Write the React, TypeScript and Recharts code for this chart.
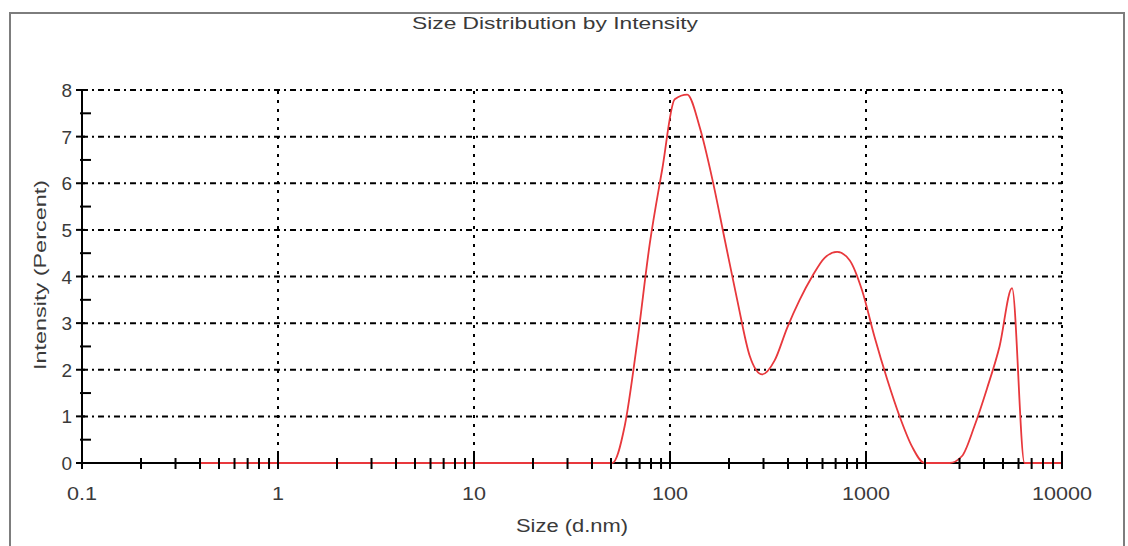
import { LineChart, Line, XAxis, YAxis, ReferenceLine } from "recharts";

// Zetasizer size classes (d.nm) and intensity (%)
const SIZES = [
  0.4, 0.4632, 0.5365, 0.6213, 0.7195, 0.8332, 0.9649, 1.117, 1.294, 1.499,
  1.736, 2.01, 2.328, 2.696, 3.122, 3.615, 4.187, 4.849, 5.615, 6.503,
  7.531, 8.721, 10.1, 11.7, 13.54, 15.69, 18.17, 21.04, 24.36, 28.21,
  32.67, 37.84, 43.82, 50.75, 58.77, 68.06, 78.82, 91.28, 105.7, 122.4,
  141.8, 164.2, 190.1, 220.2, 255.0, 295.3, 342.0, 396.1, 458.7, 531.2,
  615.1, 712.4, 825.0, 955.4, 1106, 1281, 1484, 1718, 1990, 2305,
  2669, 3091, 3580, 4145, 4801, 5560, 6439, 7456, 8635, 10000,
];

const INTENSITY = [
  0, 0, 0, 0, 0, 0, 0, 0, 0, 0,
  0, 0, 0, 0, 0, 0, 0, 0, 0, 0,
  0, 0, 0, 0, 0, 0, 0, 0, 0, 0,
  0, 0, 0, 0, 0.8, 2.6, 4.7, 6.3, 7.8, 7.9,
  7.2, 6.1, 4.8, 3.5, 2.3, 1.9, 2.2, 2.9, 3.5, 4.0,
  4.4, 4.53, 4.35, 3.7, 2.7, 1.8, 1.0, 0.35, 0, 0,
  0, 0.15, 0.8, 1.6, 2.5, 3.75, 0, 0, 0, 0,
];

const X_MAJOR = [0.1, 1, 10, 100, 1000, 10000];
const X_MINOR = [0.1, 1, 10, 100, 1000].flatMap((d) =>
  [2, 3, 4, 5, 6, 7, 8, 9].map((m) => +(d * m).toPrecision(3))
);
const Y_MAJOR = [0, 1, 2, 3, 4, 5, 6, 7, 8];
const Y_MINOR = [0.5, 1.5, 2.5, 3.5, 4.5, 5.5, 6.5, 7.5];

const data = SIZES.map((size, i) => ({ size, intensity: INTENSITY[i] }));

const FONT = "'Liberation Sans', Arial, sans-serif";
const TEXT = "#3a3a3a";

const charWidth = (s: string) =>
  s.split("").reduce((w, c) => w + (c === "." ? 6 : 12), 0);

const XTick = ({ x, y, payload }: any) => {
  const v = payload.value;
  const major = X_MAJOR.includes(v);
  const label = String(v);
  return (
    <g>
      <line x1={x} x2={x} y1={major ? y - 11 : y - 5} y2={y + 6} stroke="#000" strokeWidth={2} />
      {major && (
        <text
          x={x}
          y={y + 37}
          textAnchor="middle"
          fontFamily={FONT}
          fontSize={18}
          fill={TEXT}
          textLength={charWidth(label)}
          lengthAdjust="spacingAndGlyphs"
        >
          {label}
        </text>
      )}
    </g>
  );
};

const YTick = ({ x, y, payload }: any) => {
  const v = payload.value;
  const major = Y_MAJOR.includes(v);
  return (
    <g>
      <line
        x1={major ? x - 6 : x - 2}
        x2={major ? x + 3 : x + 9}
        y1={y}
        y2={y}
        stroke="#000"
        strokeWidth={2}
      />
      {major && (
        <text x={x - 10} y={y + 7} textAnchor="end" fontFamily={FONT} fontSize={19} fill={TEXT}>
          {v}
        </text>
      )}
    </g>
  );
};

export default function App() {
  return (
    <div style={{ position: "fixed", left: 0, top: 0, width: 1128, height: 546, overflow: "hidden", background: "#fff" }}>
      <div
        style={{
          position: "absolute",
          left: 9,
          top: 12,
          width: 1112,
          height: 600,
          border: "2px solid #7d7d7d",
        }}
      />
      <div style={{ position: "absolute", left: 0, top: 0 }}>
        <LineChart width={1128} height={546} data={data} margin={{ top: 90, right: 66, bottom: 53, left: 22 }}>
          <XAxis
            dataKey="size"
            type="number"
            scale="log"
            domain={[0.1, 10000]}
            allowDataOverflow
            ticks={[...X_MAJOR, ...X_MINOR]}
            interval={0}
            tickLine={false}
            tickSize={0}
            tickMargin={0}
            height={30}
            axisLine={false}
            tick={<XTick />}
          />
          <YAxis
            type="number"
            domain={[0, 8]}
            ticks={[...Y_MAJOR, ...Y_MINOR]}
            interval={0}
            tickLine={false}
            tickSize={0}
            tickMargin={0}
            width={60}
            axisLine={{ stroke: "#000", strokeWidth: 2 }}
            tick={<YTick />}
          />
          <ReferenceLine y={0} stroke="#000" strokeWidth={2} />
          {Y_MAJOR.filter((v) => v > 0).map((v) => (
            <ReferenceLine key={"h" + v} y={v} stroke="#000" strokeWidth={2} strokeDasharray="6 4 2 4" />
          ))}
          {X_MAJOR.filter((v) => v > 0.1).map((v) => (
            <ReferenceLine key={"v" + v} x={v} stroke="#000" strokeWidth={2} strokeDasharray="3 6" />
          ))}
          <Line
            type="monotone"
            dataKey="intensity"
            stroke="#e8383c"
            strokeWidth={1.8}
            dot={false}
            isAnimationActive={false}
          />
          <text
            x={555}
            y={29}
            textAnchor="middle"
            fontFamily={FONT}
            fontSize={17}
            fill={TEXT}
            textLength={286}
            lengthAdjust="spacingAndGlyphs"
          >
            Size Distribution by Intensity
          </text>
          <text
            x={572}
            y={532}
            textAnchor="middle"
            fontFamily={FONT}
            fontSize={18}
            fill={TEXT}
            textLength={112}
            lengthAdjust="spacingAndGlyphs"
          >
            Size (d.nm)
          </text>
          <text
            transform="translate(46 275) rotate(-90)"
            textAnchor="middle"
            fontFamily={FONT}
            fontSize={17}
            fill={TEXT}
            textLength={190}
            lengthAdjust="spacingAndGlyphs"
          >
            Intensity (Percent)
          </text>
        </LineChart>
      </div>
    </div>
  );
}
